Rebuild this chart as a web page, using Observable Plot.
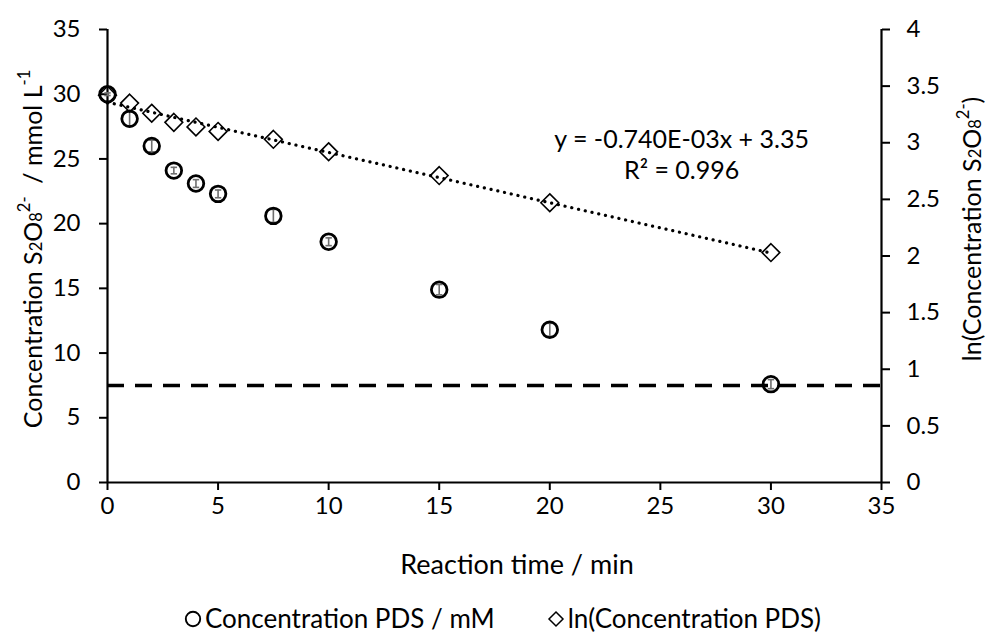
<!DOCTYPE html>
<html>
<head>
<meta charset="utf-8">
<script src="https://cdn.jsdelivr.net/npm/d3@7"></script>
<script src="https://cdn.jsdelivr.net/npm/@observablehq/plot@0.6"></script>
<style>
  body { margin: 0; background: #fff; font-family: Lato, "Open Sans", sans-serif; }
  #chart { position: relative; width: 985px; height: 633px; overflow: hidden; }
  #legend { position: absolute; left: 184px; top: 603px; display: flex; align-items: center; font-size: 26px; line-height: 31px; color: #000; white-space: pre; }
  #legend svg { margin-right: 3px; }
</style>
</head>
<body>
<div id="chart"></div>
<script>
// ---- data ----
const times = [0, 1, 2, 3, 4, 5, 7.5, 10, 15, 20, 30];
const conc = [30.0, 28.1, 26.0, 24.1, 23.1, 22.3, 20.6, 18.6, 14.9, 11.8, 7.6];
const concErr = [0.1, 0.6, 0.45, 0.25, 0.3, 0.3, 0.5, 0.3, 0.4, 0.5, 0.35];
const lnConc = [3.42, 3.35, 3.26, 3.18, 3.14, 3.10, 3.03, 2.92, 2.71, 2.47, 2.03];
const thresholdLine = [7.5];
const xTicks = [0, 5, 10, 15, 20, 25, 30, 35];
const yTicks = [0, 5, 10, 15, 20, 25, 30, 35];
const y2Ticks = [0, 0.5, 1, 1.5, 2, 2.5, 3, 3.5, 4];
const eqLines = ["y = -0.740E-03x + 3.35", "R² = 0.996"];
const eqX = [25.96, 25.96];
const eqY = [26.45, 24.1];
const seriesNames = ["Concentration PDS / mM", "ln(Concentration PDS)"];

const k = 35 / 4; // right axis (0–4) mapped onto left axis (0–35)
const rows = times.map((t, i) => ({t, c: conc[i], e: concErr[i], ln: lnConc[i]}));
const eqRows = eqLines.map((s, i) => ({s, x: eqX[i], y: eqY[i]}));

const capSymbol = { draw(ctx, size) { const r = 3.2; ctx.moveTo(-r, 0); ctx.lineTo(r, 0); } };

const TICKFONT = 24;
const FONT = 25;
const plot = Plot.plot({
  width: 985,
  height: 580,
  marginLeft: 107,
  marginRight: 104,
  marginTop: 29,
  marginBottom: 98,
  style: { fontFamily: "Lato, 'Open Sans', sans-serif", fontSize: TICKFONT + "px", color: "#000", background: "#fff" },
  x: { domain: [0, 35] },
  y: { domain: [0, 35] },
  marks: [
    Plot.axisX(xTicks, { tickSize: 8, tickPadding: 6, fontSize: TICKFONT, strokeWidth: 2, label: null }),
    Plot.axisY(yTicks, { anchor: "left", tickSize: 8, tickPadding: 19, fontSize: TICKFONT, strokeWidth: 2, label: null }),
    Plot.axisY(y2Ticks.map(v => v * k), { anchor: "right", tickSize: 8, tickPadding: 17, fontSize: TICKFONT, strokeWidth: 2, label: null,
      tickFormat: v => String(+(v / k).toFixed(2)) }),
    Plot.ruleX([0, 35], { stroke: "#000", strokeWidth: 2.2 }),
    Plot.ruleY([0], { stroke: "#000", strokeWidth: 2.2 }),
    Plot.ruleY(thresholdLine, { stroke: "#000", strokeWidth: 3.6, strokeDasharray: "17,11" }),
    // error bars
    Plot.ruleX(rows, { x: "t", y1: d => d.c - d.e, y2: d => d.c + d.e, stroke: "#6f6f6f", strokeWidth: 1.6 }),
    Plot.dot(rows, { x: "t", y: d => d.c - d.e, symbol: capSymbol, stroke: "#6f6f6f", strokeWidth: 1.6 }),
    Plot.dot(rows, { x: "t", y: d => d.c + d.e, symbol: capSymbol, stroke: "#6f6f6f", strokeWidth: 1.6 }),
    // concentration circles
    Plot.dot(rows, { x: "t", y: "c", r: 7.8, stroke: "#000", strokeWidth: 2.8, fill: "none" }),
    // ln diamonds
    Plot.dot(rows, { x: "t", y: d => d.ln * k, symbol: "diamond2", r: 8, stroke: "#000", strokeWidth: 1.6, fill: "none" }),
    // linear trendline
    Plot.linearRegressionY(rows, { x: "t", y: d => d.ln * k, ci: 0, stroke: "#000", strokeWidth: 3.2, strokeDasharray: "0.1,6.8", strokeLinecap: "round" }),
    // equation
    Plot.text(eqRows, { x: "x", y: "y", text: "s", fontSize: FONT, fill: "#000", textAnchor: "middle" })
  ]
});

document.getElementById("chart").appendChild(plot);

// axis titles with sub/superscripts
const svg = d3.select(plot);
function title(x, y, parts) {
  const t = svg.append("text")
    .attr("transform", `translate(${x},${y}) rotate(-90)`)
    .attr("text-anchor", "middle")
    .attr("dominant-baseline", "central")
    .attr("font-size", FONT)
    .attr("fill", "#000")
    .style("white-space", "pre");
  for (const [s, kind] of parts) {
    const ts = t.append("tspan").text(s);
    if (kind === "sub") ts.attr("baseline-shift", "-25%").attr("font-size", FONT * 0.66);
    if (kind === "sup") ts.attr("baseline-shift", "45%").attr("font-size", FONT * 0.66);
  }
  return t;
}
title(32, 249, [["Concentration S"], ["2", "sub"], ["O"], ["8", "sub"], ["2-", "sup"], ["  / mmol L"], ["-1", "sup"]]);
title(971, 229, [["ln(Concentration S"], ["2", "sub"], ["O"], ["8", "sub"], ["2-", "sup"], [")"]]);
svg.append("text")
  .attr("x", 517).attr("y", 563)
  .attr("text-anchor", "middle").attr("dominant-baseline", "central")
  .attr("font-size", 27).attr("fill", "#000")
  .text("Reaction time / min");

// legend
const legend = d3.select("#chart").append("div").attr("id", "legend");
const item1 = legend.append("span").style("display", "flex").style("align-items", "center");
item1.append("svg").attr("width", 18).attr("height", 18)
  .append("circle").attr("cx", 9).attr("cy", 9).attr("r", 7.2).attr("fill", "none").attr("stroke", "#000").attr("stroke-width", 1.9);
item1.append("span").text(seriesNames[0]);
const item2 = legend.append("span").style("display", "flex").style("align-items", "center").style("margin-left", "52px");
item2.append("svg").attr("width", 18).attr("height", 18)
  .append("path").attr("d", "M9,2L16,9L9,16L2,9Z").attr("fill", "none").attr("stroke", "#000").attr("stroke-width", 1.5);
item2.append("span").text(seriesNames[1]);
</script>
</body>
</html>
